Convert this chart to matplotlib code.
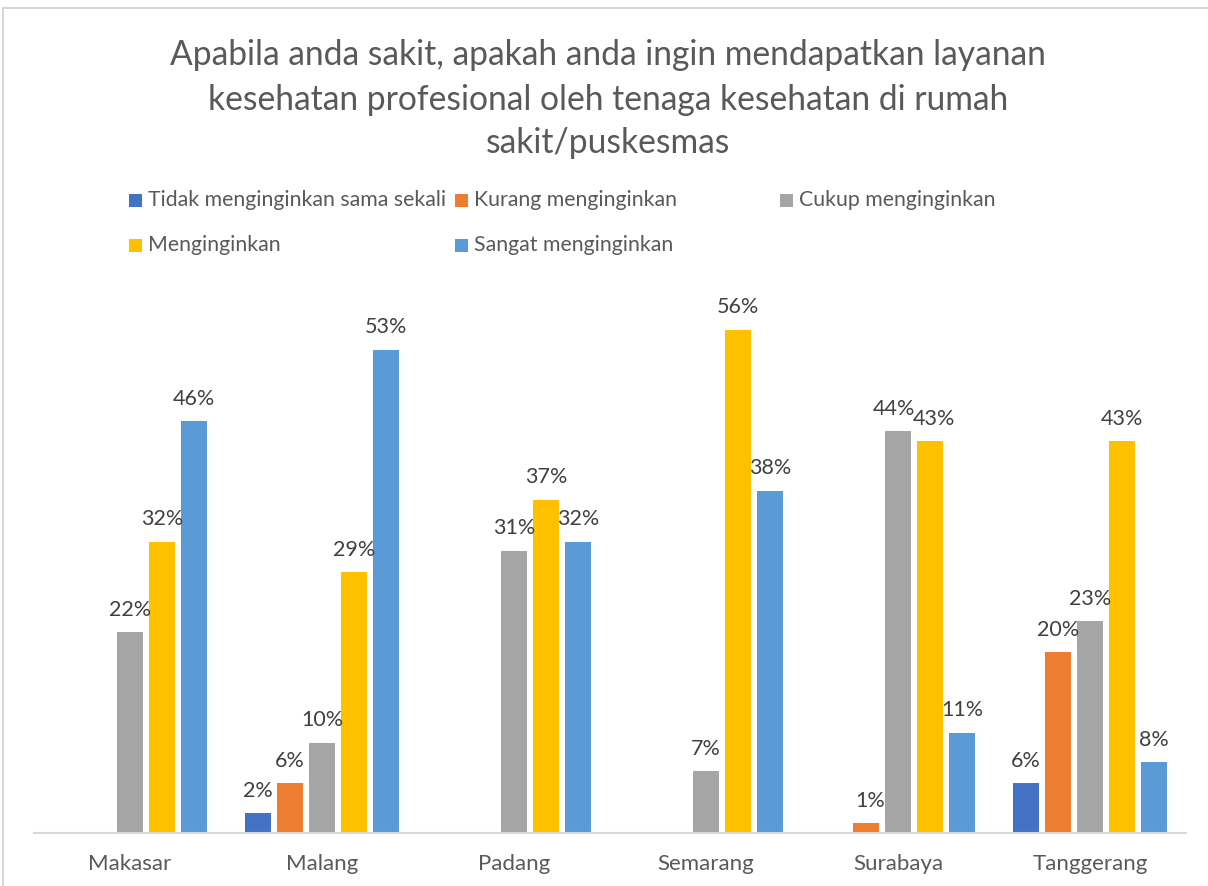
import matplotlib
matplotlib.use("Agg")
import matplotlib.pyplot as plt
from matplotlib.patches import Rectangle
from matplotlib.lines import Line2D
import numpy as np

plt.rcParams['font.family'] = ['Lato', 'DejaVu Sans']

categories = ["Makasar", "Malang", "Padang", "Semarang", "Surabaya", "Tanggerang"]
series_names = ["Tidak menginginkan sama sekali", "Kurang menginginkan",
                "Cukup menginginkan", "Menginginkan", "Sangat menginginkan"]
tidak = [0.0, 2.2, 0.0, 0.0, 0.0, 5.5]
kurang = [0.0, 5.5, 0.0, 0.0, 1.1, 20.0]
cukup = [22.2, 10.0, 31.2, 6.8, 44.4, 23.4]
ingin = [32.2, 28.8, 36.8, 55.6, 43.3, 43.3]
sangat = [45.5, 53.4, 32.2, 37.8, 11.1, 7.8]
series = [tidak, kurang, cukup, ingin, sangat]
colors = ["#4472C4", "#ED7D31", "#A5A5A5", "#FFC000", "#5B9BD5"]

title_lines = ["Apabila anda sakit, apakah anda ingin mendapatkan layanan",
               "kesehatan profesional oleh tenaga kesehatan di rumah",
               "sakit/puskesmas"]

W, H = 1208, 886
fig = plt.figure(figsize=(W / 100, H / 100), dpi=100)
fig.patch.set_facecolor("white")

# axes placement in pixels
ax_left, ax_right, ax_bottom, ax_top = 34, 1186, 833, 290
ax = fig.add_axes([ax_left / W, (H - ax_bottom) / H, (ax_right - ax_left) / W,
                   (ax_bottom - ax_top) / H])
ymax = 60.0
ax.set_xlim(-0.5, len(categories) - 0.5)
ax.set_ylim(0, ymax)

x = np.arange(len(categories))
step = 32 / 192
width = 26 / 192
txtc = "#595959"
ns = len(series)
for i, (vals, col) in enumerate(zip(series, colors)):
    offs = (i - 2) * step
    for j, (xi, v) in enumerate(zip(x, vals)):
        if v <= 0:
            continue
        ax.bar(xi + offs, v, width=width, color=col, edgecolor="none", zorder=2)
        # nudge labels apart when a neighbouring bar has nearly the same height
        dx = 0
        if i + 1 < ns and abs(series[i + 1][j] - v) < 3:
            dx -= 3
        if i - 1 >= 0 and abs(series[i - 1][j] - v) < 3:
            dx += 3
        ax.annotate(f"{v:.0f}%", (xi + offs, v), xytext=(dx, 9), textcoords="offset points",
                    ha="center", va="bottom", fontsize=15.5, color="#404040")

for s in ["top", "right", "left"]:
    ax.spines[s].set_visible(False)
ax.spines["bottom"].set_color("#d9d9d9")
ax.spines["bottom"].set_linewidth(1.5)
ax.set_yticks([])
ax.set_xticks(x)
ax.set_xticklabels(categories, fontsize=16, color=txtc)
ax.tick_params(axis="x", length=0, pad=15)

# title
for yc, line in zip([52, 97, 140], title_lines):
    fig.text(608 / W, 1 - yc / H, line, ha="center", va="center_baseline", fontsize=24.2,
             color=txtc)

# legend (manual, Excel-like layout)
leg_pos = [(129, 200), (455, 200), (780, 200), (129, 245), (455, 245)]
for (lx, ly), name, col in zip(leg_pos, series_names, colors):
    fig.patches.append(Rectangle(((lx) / W, 1 - (ly + 6.5) / H), 13 / W, 13 / H,
                                 transform=fig.transFigure, facecolor=col,
                                 edgecolor="none"))
    fig.text((lx + 19) / W, 1 - ly / H, name, ha="left", va="center",
             fontsize=15.3, color=txtc)

# chart border (top & left)
fig.add_artist(Line2D([3 / W, 1], [1 - 8 / H, 1 - 8 / H], transform=fig.transFigure,
                      color="#d0d0d0", lw=1.2))
fig.add_artist(Line2D([3 / W, 3 / W], [0, 1 - 8 / H], transform=fig.transFigure,
                      color="#d0d0d0", lw=1.2))

fig.savefig("out.png", dpi=100, facecolor="white")
